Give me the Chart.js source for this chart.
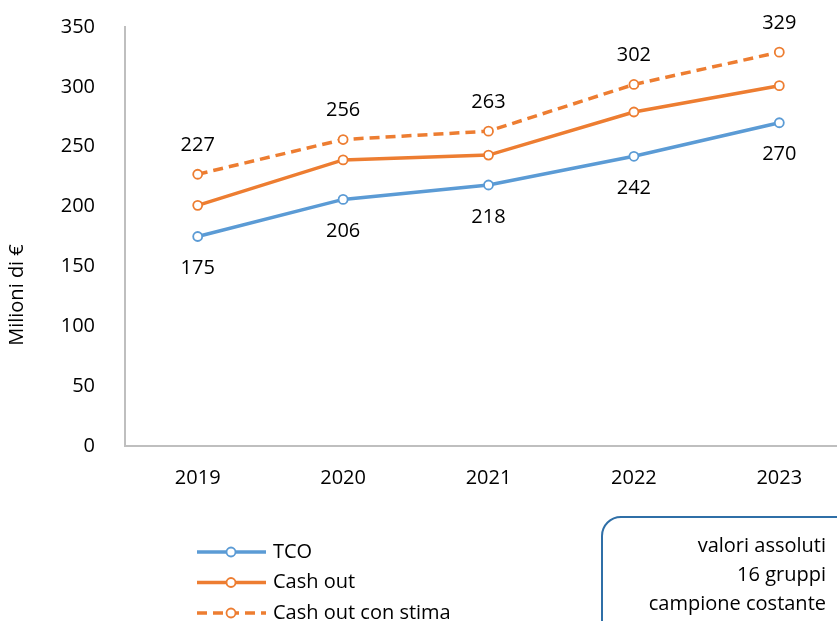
<!DOCTYPE html>
<html>
<head>
<meta charset="UTF-8">
<title>TCO e Cash out</title>
<script src="https://cdn.jsdelivr.net/npm/chart.js@4.4.1/dist/chart.umd.min.js"></script>
<style>
  body { margin: 0; overflow: hidden; background: #fff; font-family: "Open Sans", sans-serif; }
  #wrap { position: absolute; left: 0; top: 0; width: 860px; height: 621px; }
  .note {
    position: absolute; left: 601px; top: 516px; width: 260px; height: 130px;
    border: 2px solid #2F6FA7; border-radius: 20px; box-sizing: border-box;
    text-align: right; padding: 12px 33px 0 0;
    font-size: 20px; line-height: 29px; color: #000;
  }
</style>
</head>
<body>
<div id="wrap">
  <canvas id="myChart" width="860" height="621"></canvas>
  <div class="note">valori assoluti<br>16 gruppi<br>campione costante</div>
</div>
<script>
const years = ['2019', '2020', '2021', '2022', '2023'];
const tco = [175, 206, 218, 242, 270];
const cashOut = [201, 239, 243, 279, 301];
const cashOutStima = [227, 256, 263, 302, 329];
const yTitle = 'Milioni di €';

const blue = '#5B9BD5';
const orange = '#ED7D31';
const font = '"Open Sans", sans-serif';

// value labels: TCO below the points, estimate above
const valueLabels = {
  id: 'valueLabels',
  afterDatasetsDraw(chart) {
    const ctx = chart.ctx;
    ctx.save();
    ctx.font = '20px ' + font;
    ctx.fillStyle = '#000';
    ctx.textAlign = 'center';
    ctx.textBaseline = 'middle';
    [[0, 32], [2, -29]].forEach(([i, dy]) => {
      const meta = chart.getDatasetMeta(i);
      meta.data.forEach((pt, j) => {
        ctx.fillText(chart.data.datasets[i].data[j], pt.x, pt.y + dy);
      });
    });
    ctx.restore();
  }
};

// vertical legend bottom left + y title (sits lower than the axis centre)
const sideLegend = {
  id: 'sideLegend',
  afterDraw(chart) {
    const ctx = chart.ctx;
    ctx.save();
    chart.data.datasets.forEach((ds, i) => {
      const y = 552 + i * 30.5;
      ctx.strokeStyle = ds.borderColor;
      ctx.lineWidth = 3.5;
      ctx.setLineDash(ds.borderDash || []);
      ctx.beginPath();
      ctx.moveTo(197, y);
      ctx.lineTo(266, y);
      ctx.stroke();
      ctx.setLineDash([]);
      ctx.beginPath();
      ctx.arc(231, y, 4.5, 0, Math.PI * 2);
      ctx.fillStyle = '#fff';
      ctx.fill();
      ctx.lineWidth = 1.8;
      ctx.stroke();
      ctx.fillStyle = '#000';
      ctx.font = '20px ' + font;
      ctx.textAlign = 'left';
      ctx.textBaseline = 'middle';
      ctx.fillText(ds.label, 273, y);
    });
    ctx.translate(17, 295);
    ctx.rotate(-Math.PI / 2);
    ctx.textAlign = 'center';
    ctx.fillText(yTitle, 0, 0);
    ctx.restore();
  }
};

const ctx = document.getElementById('myChart').getContext('2d');
const myChart = new Chart(ctx, {
  type: 'line',
  data: {
    labels: years,
    datasets: [
      { label: 'TCO', data: tco, borderColor: blue },
      { label: 'Cash out', data: cashOut, borderColor: orange },
      { label: 'Cash out con stima', data: cashOutStima, borderColor: orange, borderDash: [10, 6] }
    ].map(d => Object.assign({
      borderWidth: 3.5,
      pointRadius: 4.5,
      pointBorderWidth: 1.8,
      pointBackgroundColor: '#fff',
      pointBorderColor: d.borderColor,
      tension: 0
    }, d))
  },
  options: {
    responsive: false,
    animation: false,
    layout: { padding: { top: 27, right: 8, left: 0, bottom: 0 } },
    scales: {
      x: {
        offset: true,
        grid: { display: false },
        border: { display: true, color: '#BFBFBF', width: 2 },
        ticks: { color: '#000', padding: 12, font: { family: font, size: 20 } },
        afterFit(scale) { scale.height = 175; }
      },
      y: {
        min: 0,
        max: 350,
        grid: { display: false },
        border: { display: true, color: '#BFBFBF', width: 2 },
        ticks: { stepSize: 50, color: '#000', padding: 22, font: { family: font, size: 20 } },
        afterFit(scale) {
          scale.width = 125;
          scale.paddingTop = 0;
          scale.paddingBottom = 0;
        }
      }
    },
    plugins: {
      legend: { display: false },
      tooltip: { enabled: false }
    }
  },
  plugins: [valueLabels, sideLegend]
});
</script>
</body>
</html>
